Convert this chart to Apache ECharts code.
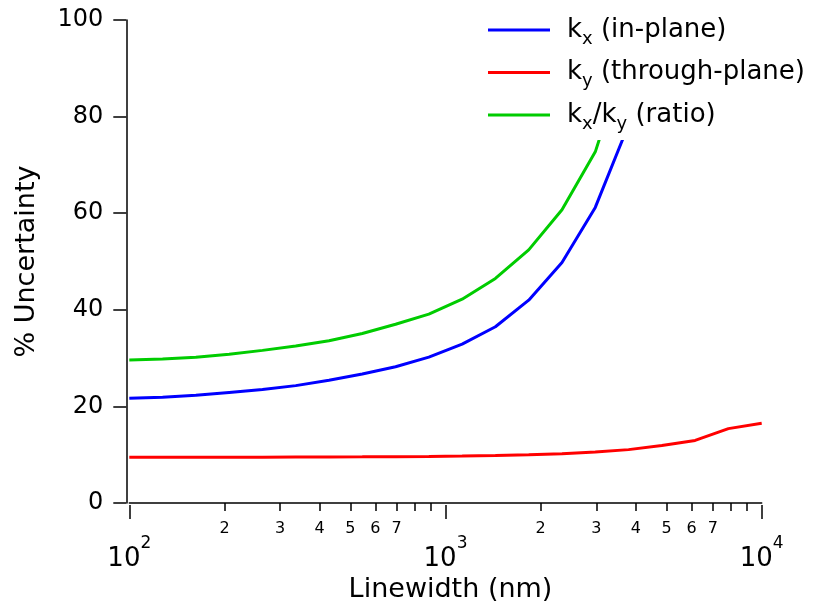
<!DOCTYPE html>
<html>
<head>
<meta charset="utf-8">
<script src="https://cdn.jsdelivr.net/npm/echarts@6/dist/echarts.min.js"></script>
<style>html,body{margin:0;padding:0;background:#fff}#c{width:817px;height:607px}</style>
</head>
<body>
<div id="c"></div>
<script>
// Linewidth (nm)
const linewidth = [100, 127.4, 162.4, 206.9, 263.7, 336, 428.1, 545.6, 695.2, 885.9,
  1128.8, 1438.4, 1833, 2335.7, 2976.4, 3792.7, 4833, 6158.5, 7847.6, 10000];
// % uncertainty
const kxInPlane = [21.7, 21.9, 22.3, 22.9, 23.5, 24.3, 25.4, 26.7, 28.2, 30.2,
  32.9, 36.5, 42.0, 49.8, 61.2, 78.3];
const kyThroughPlane = [9.45, 9.45, 9.46, 9.47, 9.48, 9.5, 9.52, 9.55, 9.6, 9.65,
  9.72, 9.82, 9.97, 10.2, 10.55, 11.05, 11.9, 12.95, 15.4, 16.5];
const kxkyRatio = [29.6, 29.8, 30.2, 30.8, 31.6, 32.5, 33.6, 35.1, 37.0, 39.1,
  42.2, 46.5, 52.4, 60.7, 72.7, 94];

const yTicks = [0, 20, 40, 60, 80, 100];
const majorTicks = [100, 1000, 10000];
const minorTicks = [200, 300, 400, 500, 600, 700, 800, 900, 2000, 3000, 4000, 5000, 6000, 7000, 8000, 9000];
const minorLabels = [200, 300, 400, 500, 600, 700, 2000, 3000, 4000, 5000, 6000, 7000];

const seriesNames = ['kx', 'ky', 'ratio'];
const legendText = {
  kx: '{n|k}{s|x}{n| (in-plane)}',
  ky: '{n|k}{s|y}{n| (through-plane)}',
  ratio: '{n|k}{s|x}{n|/k}{s|y}{n| (ratio)}'
};

function pairs(vals) { return vals.map((v, i) => [linewidth[i], v]); }

const chart = echarts.init(document.getElementById('c'), null, {renderer: 'canvas'});
const axisLineStyle = {color: '#000', width: 1.5};
chart.setOption({
  animation: false,
  textStyle: {fontFamily: 'DejaVu Sans', color: '#000'},
  grid: {left: 129.3, right: 55.3, top: 20, bottom: 104, containLabel: false, outerBoundsMode: 'none'},
  legend: {
    orient: 'vertical',
    left: 473, top: 0,
    padding: [17, 6, 7, 15],
    backgroundColor: '#fff',
    icon: 'rect',
    itemWidth: 62, itemHeight: 3, itemGap: 11.5,
    data: seriesNames,
    formatter: n => legendText[n],
    textStyle: {
      padding: [0, 0, 0, 12],
      rich: {
        n: {fontSize: 26, lineHeight: 36, color: '#000', fontFamily: 'DejaVu Sans'},
        s: {fontSize: 18, lineHeight: 16, verticalAlign: 'bottom', color: '#000', fontFamily: 'DejaVu Sans'}
      }
    }
  },
  xAxis: [{
    type: 'log', logBase: 10, min: 100, max: 10000, position: 'bottom', offset: 2,
    axisLine: {show: true, lineStyle: axisLineStyle},
    axisTick: {show: true, inside: false, length: 8, customValues: minorTicks, lineStyle: axisLineStyle},
    axisLabel: {show: true, customValues: minorLabels, margin: 16, fontSize: 16, color: '#000',
      formatter: v => String(Math.round(v / Math.pow(10, Math.floor(Math.log10(v) + 1e-9))))},
    splitLine: {show: false}, minorTick: {show: false}
  }, {
    type: 'log', logBase: 10, min: 100, max: 10000, position: 'bottom', offset: 2,
    name: 'Linewidth (nm)', nameLocation: 'middle', nameGap: 65,
    nameTextStyle: {fontSize: 27, color: '#000', padding: [0, 0, 0, 10]},
    axisLine: {show: false},
    axisTick: {show: true, inside: false, length: 14, customValues: majorTicks, lineStyle: axisLineStyle},
    axisLabel: {show: true, customValues: majorTicks, margin: 30, color: '#000',
      formatter: v => '{b|10}{s|' + Math.round(Math.log10(v)) + '}',
      rich: {
        b: {fontSize: 26, lineHeight: 48, color: '#000', fontFamily: 'DejaVu Sans'},
        s: {fontSize: 17, lineHeight: 20, verticalAlign: 'top', color: '#000', fontFamily: 'DejaVu Sans'}
      }},
    splitLine: {show: false}
  }],
  yAxis: {
    type: 'value', min: 0, max: 100, interval: 20, offset: 3,
    name: '% Uncertainty', nameLocation: 'middle', nameGap: 86, nameRotate: 90,
    nameTextStyle: {fontSize: 27, color: '#000'},
    axisLine: {show: true, lineStyle: axisLineStyle},
    axisTick: {show: true, inside: false, length: 13, lineStyle: axisLineStyle},
    axisLabel: {fontSize: 24, margin: 23, color: '#000'},
    splitLine: {show: false}
  },
  series: [
    {name: 'kx', type: 'line', data: pairs(kxInPlane), showSymbol: false, symbol: 'none',
      lineStyle: {color: '#0000ff', width: 3}, itemStyle: {color: '#0000ff'}, clip: true},
    {name: 'ky', type: 'line', data: pairs(kyThroughPlane), showSymbol: false, symbol: 'none',
      lineStyle: {color: '#ff0000', width: 3}, itemStyle: {color: '#ff0000'}, clip: true},
    {name: 'ratio', type: 'line', data: pairs(kxkyRatio), showSymbol: false, symbol: 'none',
      lineStyle: {color: '#00cc00', width: 3}, itemStyle: {color: '#00cc00'}, clip: true}
  ]
});
</script>
</body>
</html>
